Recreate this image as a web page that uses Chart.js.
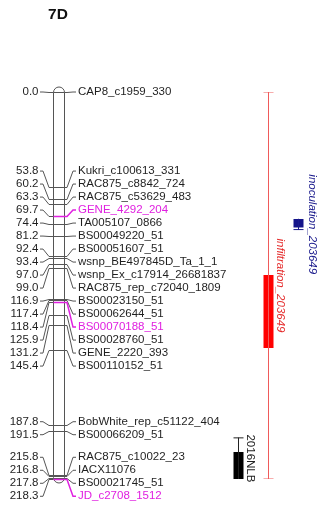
<!DOCTYPE html>
<html>
<head>
<meta charset="utf-8">
<script src="https://cdn.jsdelivr.net/npm/chart.js@4.4.0/dist/chart.umd.min.js"></script>
<style>
html, body { margin:0; padding:0; background:#fff; }
canvas { display:block; }
</style>
</head>
<body>
<canvas id="map" width="320" height="507"></canvas>
<script>
// ---- data ----
var chromName = "7D";
var markerPos = [0.0, 53.8, 60.2, 63.3, 69.7, 74.4, 81.2, 92.4, 93.4, 97.0, 99.0,
  116.9, 117.4, 118.4, 125.9, 131.2, 145.4, 187.8, 191.5, 215.8, 216.8, 217.8, 218.3];
var markerNames = ["CAP8_c1959_330", "Kukri_c100613_331", "RAC875_c8842_724", "RAC875_c53629_483",
  "GENE_4292_204", "TA005107_0866", "BS00049220_51", "BS00051607_51", "wsnp_BE497845D_Ta_1_1",
  "wsnp_Ex_c17914_26681837", "RAC875_rep_c72040_1809", "BS00023150_51", "BS00062644_51",
  "BS00070188_51", "BS00028760_51", "GENE_2220_393", "BS00110152_51", "BobWhite_rep_c51122_404",
  "BS00066209_51", "RAC875_c10022_23", "IACX11076", "BS00021745_51", "JD_c2708_1512"];
var highlightMarkers = ["GENE_4292_204", "BS00070188_51", "JD_c2708_1512"];

var qtlNames = ["2016NLB", "infiltration_203649", "inoculation_203649"];
var qtlOuterStart = [195.1, 0.0, 71.6];
var qtlOuterEnd = [218.3, 218.3, 77.6];
var qtlInnerStart = [203.0, 103.2, 71.6];
var qtlInnerEnd = [218.3, 144.4, 76.4];

// ---- layout / style ----
var FONT = '"Liberation Sans", Arial, sans-serif';
var LINE = "#555";
var TEXT = "#1f1f1f";
var HILITE = "#e020e0";
var qtlStyle = [
  { x: 238.5, line: "#222", box: "#000", text: "#222", italic: false },
  { x: 268.5, line: "#f05a5a", box: "#ff0000", text: "#e52b2b", italic: true },
  { x: 298.5, line: "#1a1a8c", box: "#14148a", text: "#1a1a8c", italic: true }
];
var chromL = 53.5, chromR = 64.5;

function seg(x1, y1, x2, y2, color, w) {
  return { data: [{ x: x1, y: y1 }, { x: x2, y: y2 }], showLine: true, pointRadius: 0,
    borderColor: color, borderWidth: w, borderCapStyle: "butt", fill: false };
}

var datasets = [];
qtlNames.forEach(function(n, i) {
  var s = qtlStyle[i];
  datasets.push(seg(s.x, qtlOuterStart[i], s.x, qtlOuterEnd[i], s.line, 1));
  if (qtlOuterStart[i] < qtlInnerStart[i]) datasets.push(seg(s.x - 5, qtlOuterStart[i], s.x + 5, qtlOuterStart[i], s.line, 1));
  if (qtlOuterEnd[i] > qtlInnerEnd[i]) datasets.push(seg(s.x - 5, qtlOuterEnd[i], s.x + 5, qtlOuterEnd[i], s.line, 1));
  datasets.push(seg(s.x, qtlInnerStart[i], s.x, qtlInnerEnd[i], s.box, 10));
});

// spread labels so they are at least `gap` px apart, each cluster centred on its extent
function spreadLabels(ys, gap) {
  var groups = ys.map(function(v, i) { return { first: i, last: i }; });
  function place(g) {
    var n = g.last - g.first + 1, c = (ys[g.first] + ys[g.last]) / 2;
    var out = [];
    for (var k = 0; k < n; k++) out.push(c + (k - (n - 1) / 2) * gap);
    return out;
  }
  var merged = true;
  while (merged) {
    merged = false;
    for (var g = 0; g < groups.length - 1; g++) {
      var a = place(groups[g]), b = place(groups[g + 1]);
      if (b[0] - a[a.length - 1] < gap) {
        groups[g].last = groups[g + 1].last;
        groups.splice(g + 1, 1);
        merged = true;
        break;
      }
    }
  }
  var res = [];
  groups.forEach(function(g) { res = res.concat(place(g)); });
  return res;
}

var mapPlugin = {
  id: "linkageMap",
  afterDatasetsDraw: function(chart) {
    var ctx = chart.ctx, ys = chart.scales.y;
    function py(v) { return ys.getPixelForValue(v); }
    var actual = markerPos.map(function(v) { return Math.round(py(v)) + 0.5; });
    var labels = spreadLabels(markerPos.map(py), 13);

    ctx.save();
    // title
    ctx.fillStyle = "#111";
    ctx.font = "bold 15.5px " + FONT;
    ctx.textAlign = "center";
    ctx.textBaseline = "middle";
    ctx.fillText(chromName, 58, 15);

    // chromosome outline
    var top = py(0) - 5, bot = py(markerPos[markerPos.length - 1]) + 4;
    ctx.strokeStyle = LINE;
    ctx.lineWidth = 1;
    ctx.beginPath();
    if (ctx.roundRect) ctx.roundRect(chromL, top, chromR - chromL, bot - top, 5.5);
    else ctx.rect(chromL, top, chromR - chromL, bot - top);
    ctx.stroke();

    ctx.font = "11.5px " + FONT;
    ctx.textBaseline = "middle";
    markerPos.forEach(function(p, i) {
      var hi = highlightMarkers.indexOf(markerNames[i]) >= 0;
      var ya = actual[i], yl = labels[i];
      // left: position value and connector
      ctx.strokeStyle = LINE;
      ctx.beginPath();
      ctx.moveTo(40, yl); ctx.lineTo(43, yl); ctx.lineTo(49, ya); ctx.lineTo(chromL, ya);
      ctx.stroke();
      ctx.fillStyle = TEXT;
      ctx.textAlign = "right";
      ctx.fillText(p.toFixed(1), 38.5, yl);
      // cross line and right connector
      ctx.strokeStyle = hi ? HILITE : LINE;
      ctx.lineWidth = hi ? 1.5 : 1;
      ctx.beginPath();
      ctx.moveTo(chromL, ya); ctx.lineTo(chromR, ya);
      ctx.lineTo(67, ya); ctx.lineTo(73, yl); ctx.lineTo(76, yl);
      ctx.stroke();
      ctx.lineWidth = 1;
      ctx.fillStyle = hi ? HILITE : TEXT;
      ctx.textAlign = "left";
      ctx.fillText(markerNames[i], 78, yl);
    });

    // QTL labels, rotated
    qtlNames.forEach(function(n, i) {
      var s = qtlStyle[i];
      var yc = (py(qtlOuterStart[i]) + py(qtlOuterEnd[i])) / 2;
      ctx.save();
      ctx.translate(s.x + (i === 2 ? 13.5 : 11.5), yc);
      ctx.rotate(Math.PI / 2);
      ctx.font = (s.italic ? "italic " : "") + "11.5px " + FONT;
      ctx.fillStyle = s.text;
      ctx.textAlign = "center";
      ctx.textBaseline = "middle";
      ctx.fillText(n, 0, 0);
      ctx.restore();
    });
    ctx.restore();
  }
};

new Chart(document.getElementById("map").getContext("2d"), {
  type: "scatter",
  data: { datasets: datasets },
  options: {
    responsive: false,
    devicePixelRatio: 1,
    animation: false,
    events: [],
    layout: { padding: { top: 92, bottom: 28, left: 0, right: 0 } },
    plugins: { legend: { display: false }, tooltip: { enabled: false } },
    scales: {
      x: { type: "linear", min: 0, max: 320, display: false },
      y: { type: "linear", min: 0, max: 218.3, reverse: true, display: false }
    }
  },
  plugins: [mapPlugin]
});
</script>
</body>
</html>
